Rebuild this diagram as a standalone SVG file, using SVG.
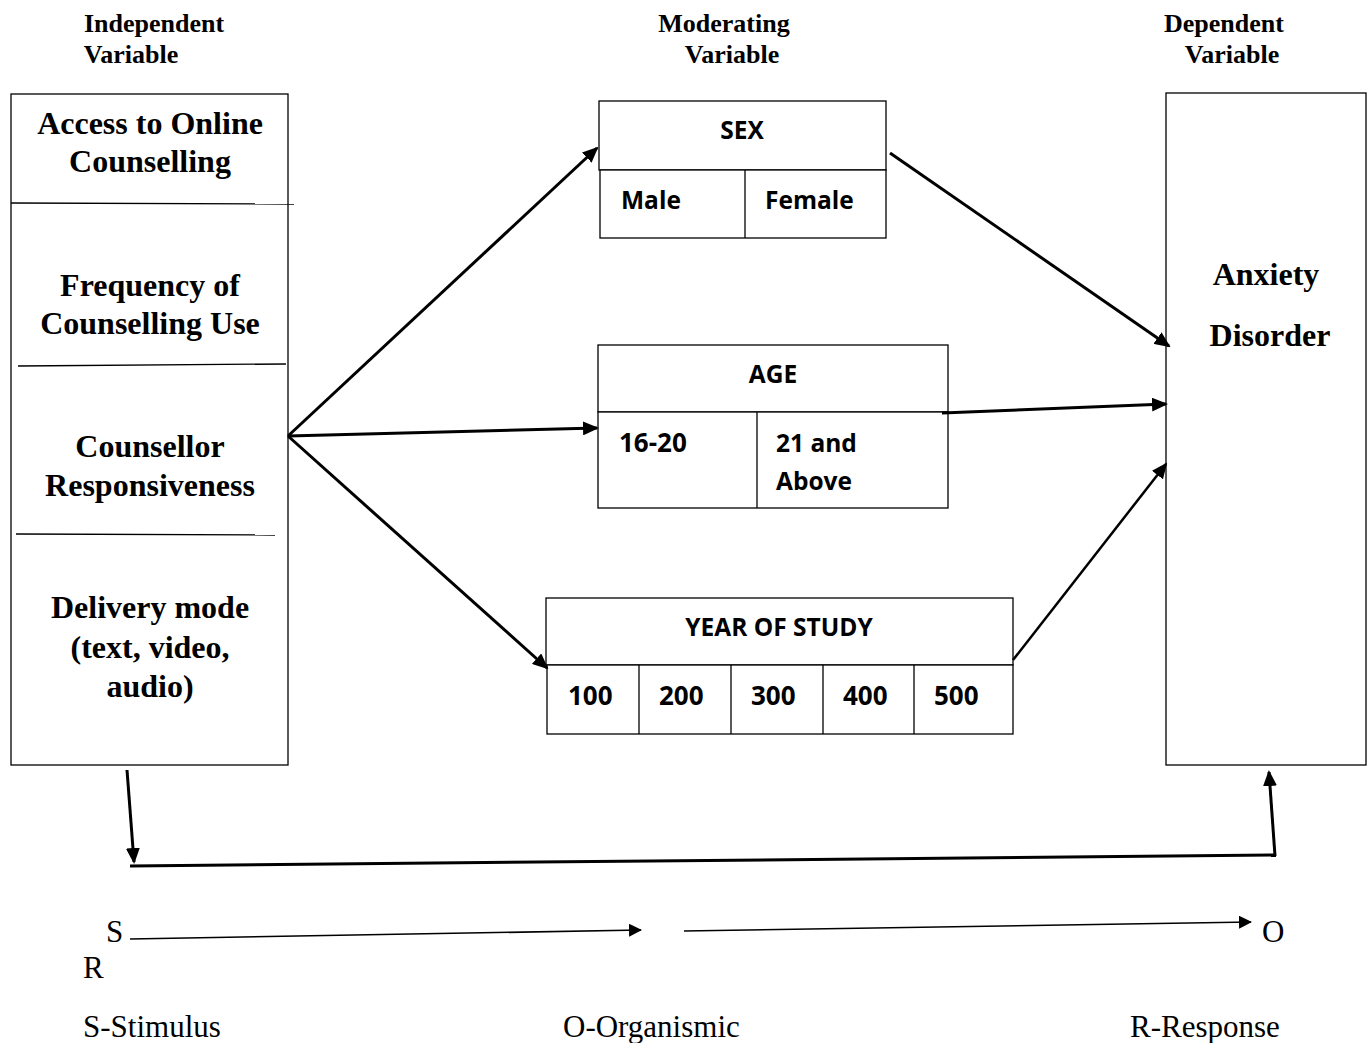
<svg xmlns="http://www.w3.org/2000/svg" width="1370" height="1043" viewBox="0 0 1370 1043">
<style>
.bx{fill:#fff;stroke:#000;stroke-width:1.3}
.ln{stroke:#000;stroke-width:1.3;fill:none}
.hd{font-family:"Liberation Serif",serif;font-weight:bold;font-size:26px;text-anchor:middle}
.tb{font-family:"Liberation Serif",serif;font-weight:bold;font-size:32px;text-anchor:middle}
.cb{font-family:"Open Sans","Liberation Sans",sans-serif;font-weight:bold;font-size:24.5px}
.nm{font-size:26px}
.tr{font-family:"Liberation Serif",serif;font-size:31px}
.ar{stroke:#000;stroke-width:3;fill:none;marker-end:url(#ah)}
.ar2{stroke:#000;stroke-width:1.6;fill:none;marker-end:url(#ah2)}
</style>
<defs>
<marker id="ah" markerWidth="16" markerHeight="14" refX="14" refY="7" orient="auto" markerUnits="userSpaceOnUse"><path d="M0,0 L16,7 L0,14 z" fill="#000"/></marker>
<marker id="ah2" markerWidth="13" markerHeight="13" refX="12" refY="6.5" orient="auto" markerUnits="userSpaceOnUse"><path d="M0,0 L13,6.5 L0,13 z" fill="#000"/></marker>
</defs>
<rect width="1370" height="1043" fill="#fff"/>
<g id="headers">
<text class="hd" x="154" y="32">Independent</text>
<text class="hd" x="131" y="63">Variable</text>
<text class="hd" x="724" y="32">Moderating</text>
<text class="hd" x="732" y="63">Variable</text>
<text class="hd" x="1224" y="32">Dependent</text>
<text class="hd" x="1232" y="63">Variable</text>
</g>
<g id="independent">
<rect class="bx" x="11" y="94" width="277" height="671"/>
<line class="ln" x1="11" y1="203" x2="294" y2="204"/>
<line class="ln" x1="18" y1="366" x2="286" y2="364"/>
<line class="ln" x1="16" y1="534" x2="275" y2="535"/>
<text class="tb" x="150" y="134">Access to Online</text>
<text class="tb" x="150" y="172">Counselling</text>
<text class="tb" x="150" y="296">Frequency of</text>
<text class="tb" x="150" y="334">Counselling Use</text>
<text class="tb" x="150" y="457">Counsellor</text>
<text class="tb" x="150" y="496">Responsiveness</text>
<text class="tb" x="150" y="618">Delivery mode</text>
<text class="tb" x="150" y="658">(text, video,</text>
<text class="tb" x="150" y="697">audio)</text>
</g>
<g id="sex">
<rect class="bx" x="599" y="101" width="287" height="69"/>
<rect class="bx" x="600" y="170" width="286" height="68"/>
<line class="ln" x1="745" y1="170" x2="745" y2="238"/>
<text class="cb" x="742" y="139" text-anchor="middle">SEX</text>
<text class="cb" x="621" y="209">Male</text>
<text class="cb" x="765" y="209">Female</text>
</g>
<g id="age">
<rect class="bx" x="598" y="345" width="350" height="67"/>
<rect class="bx" x="598" y="412" width="350" height="96"/>
<line class="ln" x1="757" y1="412" x2="757" y2="508"/>
<text class="cb" x="773" y="383" text-anchor="middle">AGE</text>
<text class="cb nm" x="619" y="452">16-20</text>
<text class="cb" x="776" y="452">21 and</text>
<text class="cb" x="776" y="490">Above</text>
</g>
<g id="year">
<rect class="bx" x="546" y="598" width="467" height="67"/>
<rect class="bx" x="547" y="665" width="466" height="69"/>
<line class="ln" x1="639" y1="665" x2="639" y2="734"/>
<line class="ln" x1="731" y1="665" x2="731" y2="734"/>
<line class="ln" x1="823" y1="665" x2="823" y2="734"/>
<line class="ln" x1="914" y1="665" x2="914" y2="734"/>
<text class="cb" x="779" y="636" text-anchor="middle">YEAR OF STUDY</text>
<text class="cb nm" x="568" y="705">100</text>
<text class="cb nm" x="659" y="705">200</text>
<text class="cb nm" x="751" y="705">300</text>
<text class="cb nm" x="843" y="705">400</text>
<text class="cb nm" x="934" y="705">500</text>
</g>
<g id="dependent">
<rect class="bx" x="1166" y="93" width="200" height="672"/>
<text class="tb" x="1266" y="285">Anxiety</text>
<text class="tb" x="1270" y="346">Disorder</text>
</g>
<g id="connectors">
<path class="ar" d="M288,436 L597,148"/>
<path class="ar" d="M288,436 L597,428"/>
<path class="ar" d="M288,436 L547,668"/>
<path class="ar" d="M890,153 L1169,346"/>
<path class="ar" d="M942,413 L1166,404"/>
<path class="ar" style="stroke-width:2.5" d="M1013,660 L1166,464"/>
<path class="ar" d="M127,770 L134,862"/>
<line x1="130" y1="866" x2="1276" y2="855" stroke="#000" stroke-width="3"/>
<path class="ar" d="M1275,856 L1269,772"/>
<path class="ar2" d="M130,939 L641,930"/>
<path class="ar2" d="M684,931 L1251,922"/>
</g>
<g id="labels">
<text class="tr" x="106" y="942">S</text>
<text class="tr" x="1262" y="942">O</text>
<text class="tr" x="83" y="978">R</text>
<text class="tr" x="83" y="1037">S-Stimulus</text>
<text class="tr" x="563" y="1037">O-Organismic</text>
<text class="tr" x="1130" y="1037">R-Response</text>
</g>
</svg>
